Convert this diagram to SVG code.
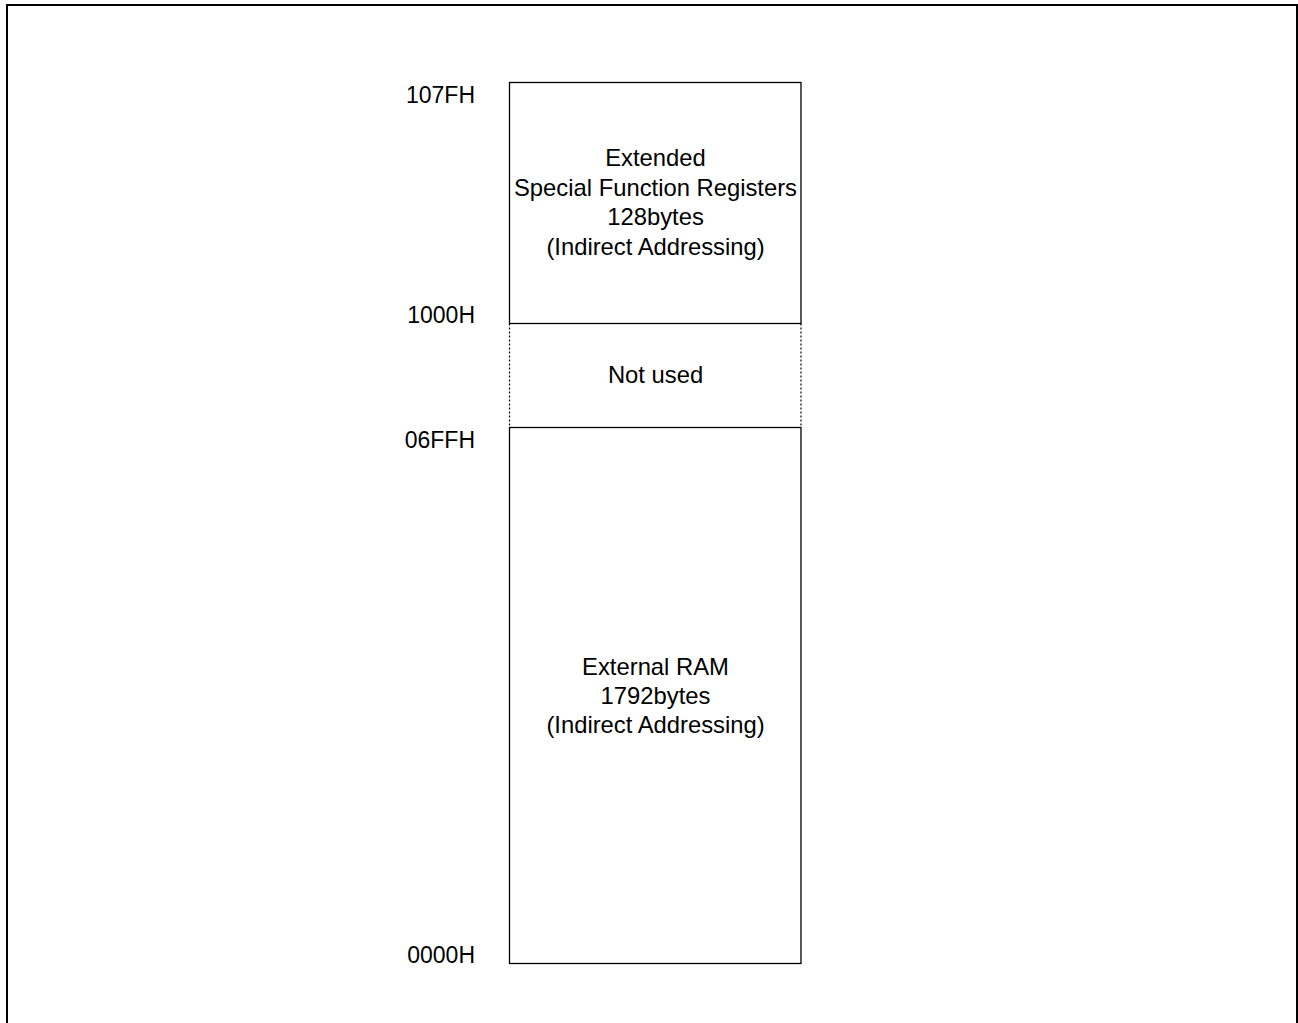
<svg xmlns="http://www.w3.org/2000/svg" width="1298" height="1023" viewBox="0 0 1298 1023">
<style>
text{font-family:"Liberation Sans",Arial,sans-serif;font-size:23px;fill:#000}
.c{text-anchor:middle;font-size:23.8px}
.r{text-anchor:end}
.box{fill:#fff;stroke:#000;stroke-width:1.3}
.dot{fill:none;stroke:#000;stroke-width:1.2;stroke-dasharray:2 2}
</style>
<rect width="1298" height="1023" fill="#fff"/>
<path d="M7 1030 V5 H1297 V1030" fill="none" stroke="#000" stroke-width="2"/>
<g id="esfr">
<rect class="box" x="509.5" y="82.5" width="291.5" height="241"/>
<text class="c" x="655.5" y="166">Extended</text>
<text class="c" x="655.5" y="195.5">Special Function Registers</text>
<text class="c" x="655.5" y="225">128bytes</text>
<text class="c" x="655.5" y="254.5">(Indirect Addressing)</text>
</g>
<g id="notused">
<line class="dot" x1="509.5" y1="323.5" x2="509.5" y2="427.5"/>
<line class="dot" x1="801" y1="323.5" x2="801" y2="427.5"/>
<text class="c" x="655.5" y="383">Not used</text>
</g>
<g id="extram">
<rect class="box" x="509.5" y="427.5" width="291.5" height="536"/>
<text class="c" x="655.5" y="675">External RAM</text>
<text class="c" x="655.5" y="704">1792bytes</text>
<text class="c" x="655.5" y="733">(Indirect Addressing)</text>
</g>
<g id="labels">
<text class="r" x="475" y="103">107FH</text>
<text class="r" x="475" y="323">1000H</text>
<text class="r" x="475" y="448">06FFH</text>
<text class="r" x="475" y="963">0000H</text>
</g>
<g id="connectors"/>
</svg>
